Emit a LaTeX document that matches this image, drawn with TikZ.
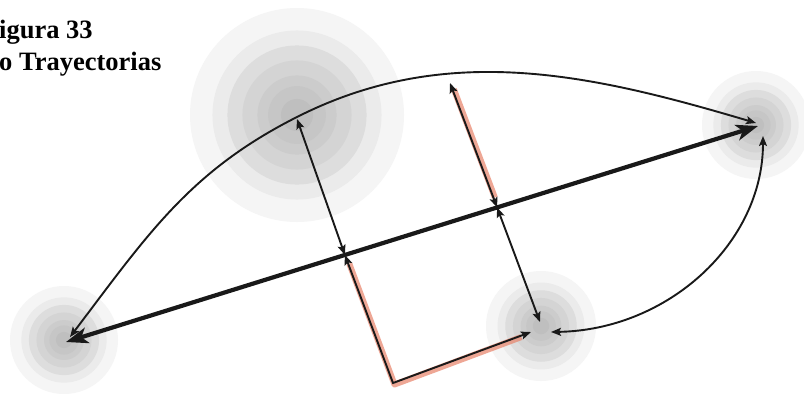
\documentclass[tikz,border=0pt]{standalone}
\usepackage{fontspec}
\setmainfont{Liberation Serif}
\usetikzlibrary{arrows.meta,calc}
\definecolor{hl}{RGB}{232,130,105}
\tikzset{
  thinarr/.style={line width=1.9pt, draw=black!90, {Stealth[length=10pt,width=8pt,inset=2pt]}-{Stealth[length=10pt,width=8pt,inset=2pt]}},
  thickarr/.style={line width=4.2pt, draw=black!90, {Stealth[length=22pt,width=16pt,inset=6pt]}-{Stealth[length=22pt,width=16pt,inset=6pt]}},
  hlline/.style={line width=6pt, draw=hl, opacity=0.7, line join=round},
  titlefont/.style={font=\bfseries\fontsize{26.5}{30}\selectfont, anchor=base west, inner sep=0pt}
}
\begin{document}
\begin{tikzpicture}[x=1pt,y=-1pt]
\useasboundingbox (0,0) rectangle (804,394);
\fill[white] (0,0) rectangle (804,394);
% circle centres
\coordinate (bigc) at (297,115);
\coordinate (rc) at (756,125);
\coordinate (lc) at (64,340);
\coordinate (bc) at (541,326);
\foreach \c/\R in {bigc/107, rc/54, lc/54, bc/55}{
  \foreach \f/\g in {1/8, 0.79/16, 0.65/27, 0.51/34, 0.37/40, 0.27/45, 0.15/50}{
    \fill[gray!\g] (\c) circle[radius={\f*\R*1pt}];
  }
}
% title
\node[titlefont] (t1) at (-1,38) {igura 33};
\node[titlefont] (t2) at (-1,70) {o Trayectorias};
% main line end points and crossings
\coordinate (L) at (66,342);
\coordinate (R) at (758,126);
\coordinate (X1) at ($(L)!0.403!(R)$);
\coordinate (X2) at ($(L)!0.623!(R)$);
\coordinate (T1) at (297,119);
\coordinate (T2) at (450,83);
\coordinate (B2) at (540,322);
\coordinate (K) at (393,383);
\coordinate (BL) at (531,332);
\coordinate (AL) at (70,337);
\coordinate (AR) at (756,123);
\coordinate (BR1) at (551,332);
\coordinate (BR2) at (763,136);
% highlights
\draw[hlline] ([xshift=1.5pt]$(X2)!0.08!(T2)$) -- ([xshift=1.5pt]$(X2)!0.95!(T2)$);
\draw[hlline] ([shift={(1.5,1)}]$(X1)!0.06!(K)$) -- ([shift={(1.5,1.5)}]K) -- ([shift={(0,1.5)}]$(K)!0.93!(BL)$);
% big arc
\draw[thinarr] (AL) .. controls (148,234) and (190,171) .. (297,117)
  .. controls (448,40.5) and (594,75) .. (AR);
% right arc
\draw[thinarr] (BR1) .. controls (668,330) and (763,243) .. (BR2);
% perpendiculars
\draw[thinarr] (X1) -- (T1);
\draw[thinarr] (X2) -- (T2);
\draw[thinarr] (X2) -- (B2);
\draw[thinarr] (X1) -- (K) -- (BL);
% main line
\draw[thickarr] (L) -- (R);
\end{tikzpicture}
\end{document}
